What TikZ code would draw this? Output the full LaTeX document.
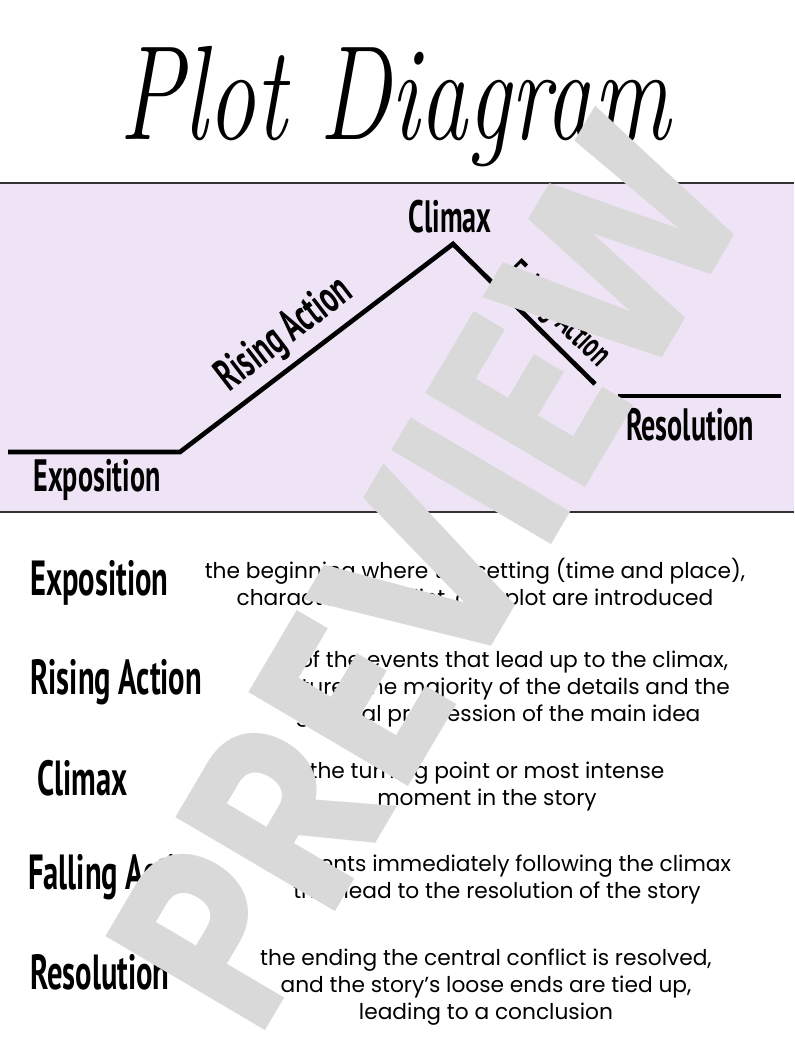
\documentclass[tikz,border=0pt]{standalone}
\usepackage{fontspec}
\setmainfont{Poppins}
\newfontfamily\headfont[FakeStretch=0.62]{PT Sans}
\newfontfamily\markfont[FakeStretch=0.84]{Poppins}
\usetikzlibrary{positioning}
\definecolor{PLavender}{HTML}{EEE4F6}
\definecolor{PGrey}{HTML}{D9D9D9}
\tikzset{
    band/.style = {fill=PLavender, draw=none},
    rule/.style = {draw=black!80, line width=1.2pt},
    plotline/.style = {line width=3.5pt, line join=miter},
    tag/.style = {font=\headfont\bfseries\fontsize{34}{34}\selectfont, inner sep=0},
    term/.style = {font=\headfont\bfseries\fontsize{37}{37}\selectfont, anchor=west, inner sep=0},
    desc/.style = {font=\fontsize{16.3}{20.25}\selectfont, align=center, inner sep=0},
    wmark/.style = {font=\markfont\bfseries\fontsize{198}{198}\selectfont, text=PGrey, inner sep=0}
}

\begin{document}
\begin{tikzpicture}[x=0.75pt,y=-0.75pt]
    \useasboundingbox (0,0) rectangle (794,1059);
    % title
    \node[anchor=base] (title) at (395,140)
        {\fontspec{Latin Modern Roman}\fontsize{72}{72}\selectfont\itshape\scalebox{1}[1.4]{Plot Diagram}};
    % lavender band
    \fill[band] (0,183) rectangle (794,512);
    \draw[rule] (0,183) -- (794,183);
    \draw[rule] (0,512) -- (794,512);
    % the plot line
    \coordinate (p0) at (8,452);
    \coordinate (p1) at (180,452);
    \coordinate (p2) at (453,244);
    \coordinate (p3) at (595,384);
    \coordinate (r0) at (618,396);
    \coordinate (r1) at (781,396);
    \draw[plotline] (p0) -- (p1) -- (p2) -- (p3);
    \draw[plotline] (r0) -- (r1);
    \node[tag] (expo) at (97,480) {Exposition};
    \node[tag, rotate=37.5] (rise) at (285,335) {Rising Action};
    \node[tag] (clim) at (450,217) {Climax};
    \node[tag, rotate=-44.5, font=\headfont\bfseries\fontsize{27}{27}\selectfont] (fall) at (557,315) {Falling Action};
    \node[tag] (reso) at (690,425) {Resolution};
    % terms and meanings
    \node[term] (texpo) at (30,583) {Exposition};
    \node[desc] (dexpo) at (475,585) {the beginning where the setting (time and place),\\characters, conflict, and plot are introduced};
    \node[term] (trise) at (30,682) {Rising Action};
    \node[desc] (drise) at (498,689) {all of the events that lead up to the climax,\\features the majority of the details and the\\gradual progression of the main idea};
    \node[term] (tclim) at (37,778) {Climax};
    \node[desc] (dclim) at (487,787) {the turning point or most intense\\moment in the story};
    \node[term] (tfall) at (28,877) {Falling Action};
    \node[desc] (dfall) at (497,879) {all events immediately following the climax\\that lead to the resolution of the story};
    \node[term] (treso) at (30,972) {Resolution};
    \node[desc] (dreso) at (486,987) {the ending the central conflict is resolved,\\and the story's loose ends are tied up,\\leading to a conclusion};
    % watermark
    \node[wmark, rotate=59.5] (wm) at (428,572) {PREVIEW};
\end{tikzpicture}
\end{document}
